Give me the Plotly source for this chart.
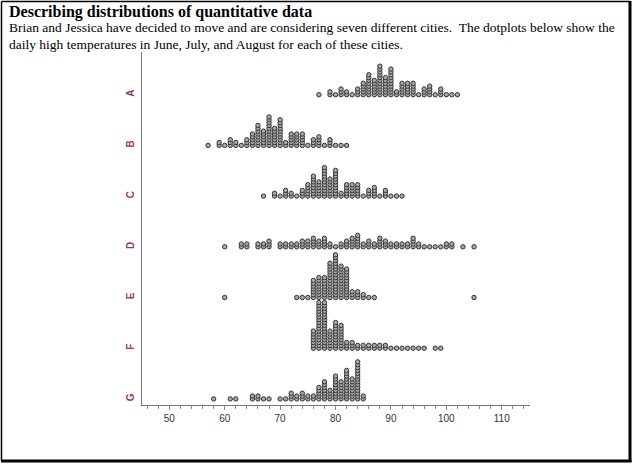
import plotly.graph_objects as go

# ---------------- data (daily highs, value -> number of days) ----------------
cities = ["A", "B", "C", "D", "E", "F", "G"]

temps_A = [77, 79, 80, 81, 82, 83, 84, 85, 86, 87, 88, 89, 90, 91, 92, 93, 94, 95, 96, 97, 98, 99, 100, 101, 102]
counts_A = [1, 2, 1, 3, 2, 1, 3, 5, 8, 6, 11, 7, 10, 2, 5, 5, 5, 1, 3, 4, 1, 3, 1, 1, 1]

temps_B = [57, 59, 60, 61, 62, 63, 64, 65, 66, 67, 68, 69, 70, 71, 72, 73, 74, 75, 76, 77, 78, 79, 80, 81, 82]
counts_B = [1, 2, 1, 3, 2, 1, 3, 5, 8, 6, 11, 7, 10, 2, 5, 5, 5, 1, 3, 4, 1, 3, 1, 1, 1]

temps_C = [67, 69, 70, 71, 72, 73, 74, 75, 76, 77, 78, 79, 80, 81, 82, 83, 84, 85, 86, 87, 88, 89, 90, 91, 92]
counts_C = [1, 2, 1, 3, 2, 1, 3, 5, 8, 6, 11, 7, 10, 2, 5, 5, 5, 1, 3, 4, 1, 3, 1, 1, 1]

temps_D = [60, 63, 64, 66, 67, 68, 70, 71, 72, 73, 74, 75, 76, 77, 78, 79, 80, 81, 82, 83, 84, 85,
           86, 87, 88, 89, 90, 91, 92, 93, 94, 95, 96, 97, 98, 99, 100, 101, 103, 105]
counts_D = [1, 2, 2, 2, 2, 3, 2, 2, 2, 2, 3, 3, 4, 3, 4, 2, 1, 2, 3, 4, 5, 2,
            3, 2, 4, 3, 2, 2, 2, 2, 4, 2, 1, 1, 1, 1, 2, 2, 1, 1]

temps_E = [60, 73, 74, 75, 76, 77, 78, 79, 80, 81, 82, 83, 84, 85, 86, 87, 105]
counts_E = [1, 1, 1, 1, 7, 8, 8, 13, 16, 12, 11, 3, 3, 2, 1, 1, 1]

temps_F = [76, 77, 78, 79, 80, 81, 82, 83, 84, 85, 86, 87, 88, 89, 90, 91, 92, 93, 94, 95, 96, 98, 99]
counts_F = [7, 17, 17, 7, 10, 9, 3, 3, 2, 2, 2, 2, 2, 2, 1, 1, 1, 1, 1, 1, 1, 1, 1]

temps_G = [58, 61, 62, 65, 66, 67, 68, 70, 71, 72, 73, 74, 75, 76, 77, 78, 79, 80, 81, 82, 83, 84, 85]
counts_G = [1, 1, 1, 2, 2, 1, 1, 1, 1, 3, 2, 3, 2, 2, 5, 7, 4, 9, 7, 11, 8, 14, 2]

x_ticks = [50, 60, 70, 80, 90, 100, 110]

series = [(temps_A, counts_A), (temps_B, counts_B), (temps_C, counts_C), (temps_D, counts_D),
          (temps_E, counts_E), (temps_F, counts_F), (temps_G, counts_G)]

# ---------------- layout geometry (pixels) ----------------
W, H = 635, 467
PL, PR, PT, PB = 142, 530, 52, 405          # plot area in page pixels
ROW0, ROW_GAP, STEP = 94.7, 50.7, 2.85      # baseline of first row, row spacing, dot stacking step


def px(xp):
    return (xp - PL) / (PR - PL)


def py(yp):
    return (PB - yp) / (PB - PT)


xs, ys = [], []
for i, (temps, counts) in enumerate(series):
    base = ROW0 + i * ROW_GAP
    for t, c in zip(temps, counts):
        for k in range(c):
            xs.append(t)
            ys.append(-(base - k * STEP))

fig = go.Figure()
fig.add_trace(go.Scatter(
    x=xs, y=ys, mode="markers",
    marker=dict(symbol="circle", size=4.4, color="#a8a8a8",
                line=dict(color="#333333", width=1)),
    hoverinfo="x", showlegend=False,
))

fig.update_layout(
    width=W, height=H,
    margin=dict(l=PL, r=W - PR, t=PT, b=H - PB, pad=0),
    paper_bgcolor="white", plot_bgcolor="white",
    xaxis=dict(
        range=[45.07, 115.1], tickmode="array", tickvals=x_ticks,
        ticktext=[str(v) for v in x_ticks],
        ticks="outside", ticklen=4, tickcolor="#8a8a8a", tickwidth=1,
        minor=dict(dtick=2, ticks="outside", ticklen=3, tickcolor="#8a8a8a", tickwidth=1),
        showline=True, linecolor="#777777", linewidth=1,
        showgrid=False, zeroline=False,
        tickfont=dict(family="Liberation Sans, Arial", size=10, color="#333333"),
        fixedrange=True,
    ),
    yaxis=dict(
        range=[-PB, -PT], tickmode="array",
        tickvals=[-(ROW0 + i * ROW_GAP) for i in range(len(cities))],
        ticktext=["<b>%s</b>" % c for c in cities], tickangle=-90, ticks="", ticklabelstandoff=3,
        showline=True, linecolor="#777777", linewidth=1,
        showgrid=False, zeroline=False,
        tickfont=dict(family="Liberation Sans, Arial", size=10, color="#a0306e"),
        fixedrange=True,
    ),
)

# text block at the top
serif = "Liberation Serif, Times New Roman, serif"
fig.add_annotation(text="<b>Describing distributions of quantitative data</b>",
                   xref="paper", yref="paper", x=px(7), y=py(12), xanchor="left", yanchor="middle",
                   showarrow=False, font=dict(family=serif, size=16, color="black"))
fig.add_annotation(text="Brian and Jessica have decided to move and are considering seven different cities.  The dotplots below show the",
                   xref="paper", yref="paper", x=px(7), y=py(28), xanchor="left", yanchor="middle",
                   showarrow=False, font=dict(family=serif, size=13.5, color="black"))
fig.add_annotation(text="daily high temperatures in June, July, and August for each of these cities.",
                   xref="paper", yref="paper", x=px(7), y=py(44), xanchor="left", yanchor="middle",
                   showarrow=False, font=dict(family=serif, size=13.5, color="black"))

# page frame (thin left/top, heavy right/bottom)
frame = [
    (1.5, 1.5, 1.5, 461, 1.5),
    (1.5, 1.5, 630, 1.5, 1.5),
    (630, 1, 630, 462, 3),
    (1, 461, 631.5, 461, 3),
]
for x0, y0, x1, y1, w in frame:
    fig.add_shape(type="line", xref="paper", yref="paper",
                  x0=px(x0), y0=py(y0), x1=px(x1), y1=py(y1),
                  line=dict(color="black", width=w))

fig.write_html("out.html")
